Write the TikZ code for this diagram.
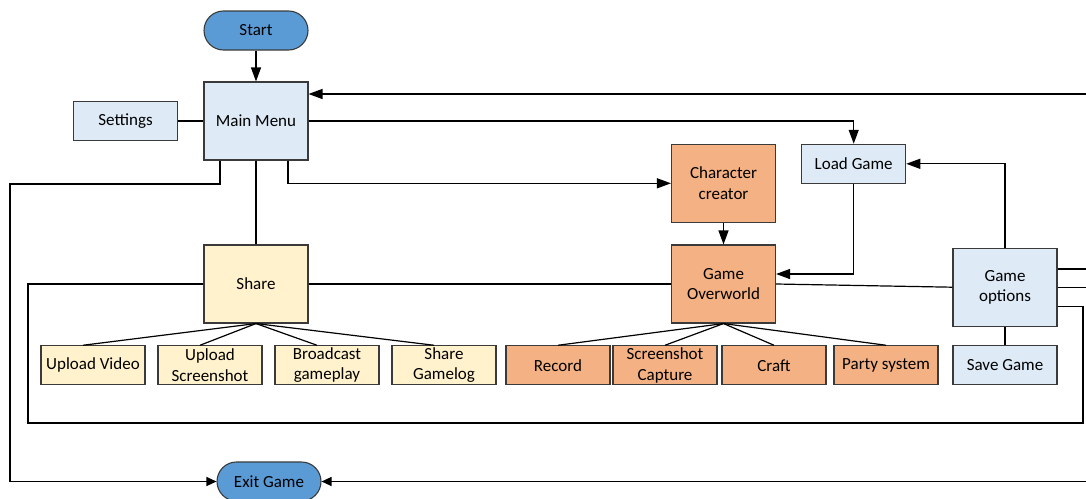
\documentclass[tikz,border=0pt]{standalone}
\usepackage{fontspec}
\setmainfont{Carlito}
\usetikzlibrary{arrows.meta}
\definecolor{termblue}{HTML}{5B9BD5}
\definecolor{lblue}{HTML}{DEEBF7}
\definecolor{lorange}{HTML}{F4B183}
\definecolor{lyellow}{HTML}{FFF2CC}
\definecolor{edge}{HTML}{3A3A3A}
\tikzset{
  base/.style={draw=edge, line width=1.1pt, inner sep=0pt, align=center,
    font=\fontsize{17}{20.5}\selectfont, text=black},
  term/.style={base, fill=termblue, minimum width=104pt, minimum height=39pt, rounded corners=19.5pt},
  bigbox/.style={base, minimum width=104pt, minimum height=78pt},
  smallbox/.style={base, minimum width=104pt, minimum height=39pt},
  blue/.style={fill=lblue},
  orange/.style={fill=lorange},
  yellow/.style={fill=lyellow},
  conn/.style={draw=black, line width=1.2pt},
  arr/.style={conn, -{Triangle[length=14pt,width=10pt]}},
  sarr/.style={conn, -{Triangle[length=10pt,width=9pt]}},
}
\begin{document}
\begin{tikzpicture}[x=1pt,y=-1pt]
\useasboundingbox (0,0) rectangle (1086,498);
\clip (0,0) rectangle (1086,498);
% nodes
\node[term] (start) at (256,30.5) {Start};
\node[bigbox,blue] (main) at (256,121) {Main Menu};
\node[smallbox,blue] (settings) at (125.5,121) {Settings};
\node[bigbox,orange] (char) at (723.5,183.3) {Character\\creator};
\node[smallbox,blue] (load) at (853.7,163.8) {Load Game};
\node[bigbox,yellow] (share) at (256,284) {Share};
\node[bigbox,orange] (over) at (723.5,284) {Game\\Overworld};
\node[bigbox,blue] (opts) at (1005,287.2) {Game\\options};
\node[smallbox,yellow] (uv) at (93,365.3) {Upload Video};
\node[smallbox,yellow] (us) at (210,365.3) {Upload\\Screenshot};
\node[smallbox,yellow] (bg) at (327,365.3) {Broadcast\\gameplay};
\node[smallbox,yellow] (sg) at (444,365.3) {Share\\Gamelog};
\node[smallbox,orange] (rec) at (558,365.3) {Record};
\node[smallbox,orange] (ssc) at (665,365.3) {Screenshot\\Capture};
\node[smallbox,orange] (craft) at (774,365.3) {Craft};
\node[smallbox,orange] (party) at (886,365.3) {Party system};
\node[smallbox,blue] (save) at (1005,365.3) {Save Game};
\node[term] (exit) at (269,481.5) {Exit Game};
% helper coordinates
\coordinate (r1) at (1092,94);
\coordinate (r2) at (1098,481.5);
\coordinate (lft) at (10,184);
\coordinate (lp1) at (1083,423);
\coordinate (lp2) at (28,423);
% connectors
\draw[arr] (start) -- (main);
\draw[conn] (settings) -- (main);
\draw[arr] ([yshift=18.2pt]opts.east) -| (r1) -- (main.east |- r1);
\draw[arr] (main.east) -| (load.north);
\draw[sarr] ([xshift=-36pt]main.south) |- (lft) |- (exit.west);
\draw[conn] (main.south) -- (share.north);
\draw[arr] ([xshift=32pt]main.south) |- (char.west);
\draw[arr] (char) -- (over);
\draw[arr] (load.south) |- ([yshift=10pt]over.east);
\draw[arr] (opts.north) |- (load.east);
\draw[conn] (over.east) -- (opts.west);
\draw[conn] (share.east) -- (over.west);
\draw[conn] ([yshift=-19pt]opts.east) -| (lp1) -- (lp2) |- (share.west);
\draw[sarr] (opts.east) -| (r2) -- (exit.east);
\draw[conn] (opts) -- (save);
% fans
\foreach \c in {uv,us,bg,sg} \draw[conn] (share.south) -- ([xshift=-10pt]\c.north);
\foreach \c in {rec,ssc,craft,party} \draw[conn] (over.south) -- (\c.north);
\end{tikzpicture}
\end{document}
